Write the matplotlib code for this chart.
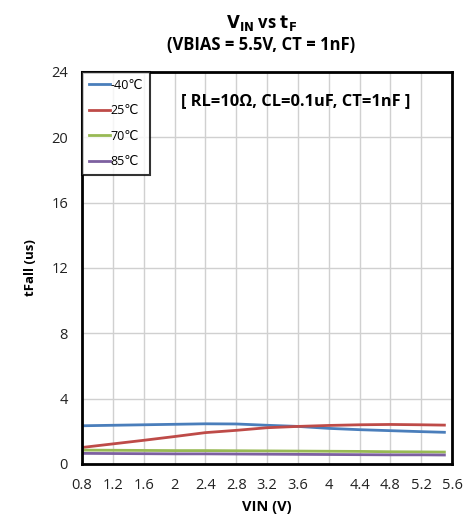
import matplotlib.pyplot as plt

plt.rcParams['font.family'] = ['Open Sans', 'DejaVu Sans']

vin = [0.8, 1.2, 1.6, 2.0, 2.4, 2.8, 3.2, 3.6, 4.0, 4.4, 4.8, 5.2, 5.5]
t_m40 = [2.34, 2.37, 2.40, 2.43, 2.46, 2.45, 2.37, 2.30, 2.18, 2.10, 2.04, 1.98, 1.94]
t_25 = [1.01, 1.23, 1.45, 1.68, 1.92, 2.06, 2.22, 2.30, 2.36, 2.40, 2.42, 2.40, 2.38]
t_70 = [0.85, 0.84, 0.83, 0.82, 0.82, 0.81, 0.80, 0.79, 0.78, 0.77, 0.75, 0.74, 0.73]
t_85 = [0.65, 0.64, 0.63, 0.62, 0.62, 0.61, 0.60, 0.59, 0.58, 0.57, 0.56, 0.56, 0.55]
labels = ['-40\u2103', '25\u2103', '70\u2103', '85\u2103']
colors = ['#4a7ebb', '#be4b48', '#98b954', '#7d60a0']

xticks = [0.8, 1.2, 1.6, 2, 2.4, 2.8, 3.2, 3.6, 4, 4.4, 4.8, 5.2, 5.6]
yticks = [0, 4, 8, 12, 16, 20, 24]

fig = plt.figure(figsize=(4.67, 5.16), dpi=100)
ax = fig.add_axes([0.1756, 0.1008, 0.7925, 0.7597])

for series, lab, col in zip([t_m40, t_25, t_70, t_85], labels, colors):
    ax.plot(vin, series, color=col, lw=2, label=lab)

ax.set_xlim(0.8, 5.6)
ax.set_ylim(0, 24)
ax.set_xticks(xticks)
ax.set_xticklabels([('%g' % v) for v in xticks])
ax.set_yticks(yticks)
ax.tick_params(length=0, labelsize=10.5, pad=10, colors='#222222')
ax.grid(True, color='#d0d0d0', lw=1)
for sp in ax.spines.values():
    sp.set_linewidth(2)
    sp.set_color('black')

ax.set_xlabel('VIN (V)', fontsize=10.5, fontweight='bold', labelpad=5)
ax.set_ylabel('tFall (us)', fontsize=9.5, fontweight='bold', labelpad=10)

fig.text(0.56, 0.955, r'$\mathbf{V_{IN}}$' + ' vs ' + r'$\mathbf{t_{F}}$', ha='center',
         va='center', fontsize=12, fontweight='bold')
fig.text(0.56, 0.912, '(VBIAS = 5.5V, CT = 1nF)', ha='center', va='center',
         fontsize=12, fontweight='bold')

ax.text(0.578, 0.925, '[ RL=10\u03a9, CL=0.1uF, CT=1nF ]', transform=ax.transAxes,
        ha='center', va='center', fontsize=11.8, fontweight='bold')

leg = ax.legend(loc='upper left', bbox_to_anchor=(0, 1), fontsize=9, frameon=True,
                fancybox=False, handlelength=1.7, handletextpad=0.05,
                labelspacing=1.0, borderpad=0.55, borderaxespad=0)
leg.get_frame().set_edgecolor('black')
leg.get_frame().set_linewidth(1.5)

fig.savefig('out.png', dpi=100)
